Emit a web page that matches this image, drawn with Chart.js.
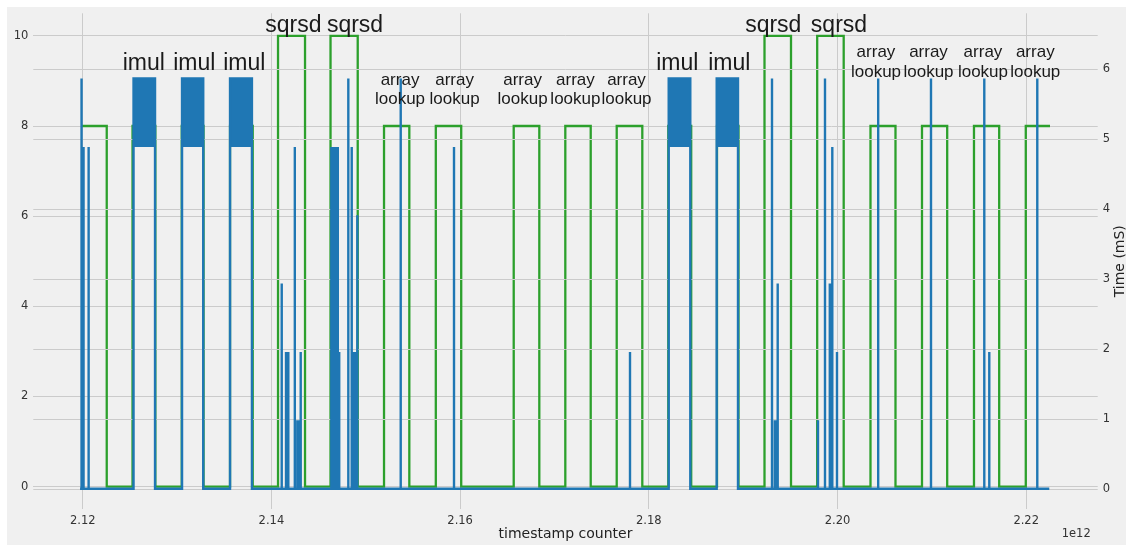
<!DOCTYPE html>
<html>
<head>
<meta charset="utf-8">
<script src="https://cdn.jsdelivr.net/npm/chart.js@4"></script>
<style>
  html, body { margin: 0; padding: 0; background: #ffffff; }
  #wrap { position: absolute; left: 7px; top: 7px; width: 1119px; height: 538px; background: #f0f0f0; }
  canvas { display: block; }
</style>
</head>
<body>
<div id="wrap"><canvas id="c" width="1119" height="538"></canvas></div>
<script>
// Timestamps are in units of 1e12 counter ticks.
const xTicks = [2.12, 2.14, 2.16, 2.18, 2.20, 2.22];
const leftTicks = [0, 2, 4, 6, 8, 10];
const rightTicks = [0, 1, 2, 3, 4, 5, 6];

// Operation marker (left axis): level holds from each timestamp to the next
const opTimes = [
  2.119873, 2.122544, 2.125278, 2.127695, 2.130493, 2.132803, 2.135612, 2.138018,
  2.140699, 2.143561, 2.146264, 2.149147, 2.151934, 2.154616, 2.157424, 2.160116,
  2.165681, 2.168394, 2.171150, 2.173842, 2.176598, 2.179311, 2.182067, 2.184494,
  2.187228, 2.189507, 2.192263, 2.195072, 2.197848, 2.200657, 2.203497, 2.206147,
  2.208956, 2.211627, 2.214467, 2.217138, 2.219957, 2.222522
];
const opLevels = [
  8, 0, 8, 0, 8, 0, 8, 0,
  10, 0, 10, 0, 8, 0, 8, 0,
  8, 0, 8, 0, 8, 0, 8, 0,
  8, 0, 10, 0, 10, 0, 8, 0,
  8, 0, 8, 0, 8, 8
];

// Measured time (right axis, mS)
const traceStart = 2.119714;
const traceEnd = 2.222448;
const spikeTimes = [
  2.119873, 2.120085, 2.120625,
  2.141092, 2.141547, 2.141791, 2.142480, 2.142745, 2.142925, 2.143105,
  2.146349, 2.146486, 2.146624, 2.146761, 2.146900, 2.147037, 2.147186,
  2.148150, 2.148511, 2.148712, 2.148882, 2.149104,
  2.153704, 2.159353, 2.178007,
  2.193058, 2.193355, 2.193482, 2.193662,
  2.197933, 2.198675, 2.199184, 2.199332, 2.199449, 2.199947,
  2.204313, 2.209910, 2.215559, 2.216089, 2.221176
];
const spikeValues = [
  5.868, 4.890, 4.890,
  2.934, 1.956, 1.956, 4.890, 0.978, 0.978, 1.956,
  4.890, 4.890, 4.890, 4.890, 4.890, 4.890, 1.956,
  5.868, 4.890, 1.956, 1.956, 3.912,
  5.868, 4.890, 1.956,
  5.868, 0.978, 0.978, 2.934,
  0.978, 5.868, 2.934, 2.934, 4.890, 1.956,
  5.868, 5.868, 5.868, 1.956, 5.868
];
// imul stretches toggle quickly between two readings
const imulStarts = [2.125384, 2.130525, 2.135612, 2.182109, 2.187196];
const imulEnds   = [2.127663, 2.132772, 2.137933, 2.184398, 2.189454];
const imulHigh = 5.868;
const imulLow = 4.89;

// Operation names, placed in timestamp / left-axis units
const labelTexts = [
  'imul', 'imul', 'imul', 'sqrsd', 'sqrsd',
  'array\nlookup', 'array\nlookup', 'array\nlookup', 'array\nlookup', 'array\nlookup',
  'imul', 'imul', 'sqrsd', 'sqrsd',
  'array\nlookup', 'array\nlookup', 'array\nlookup', 'array\nlookup'
];
const labelTimes = [
  2.126465, 2.131828, 2.137117, 2.142321, 2.148861,
  2.153630, 2.159417, 2.166625, 2.172220, 2.177636,
  2.183021, 2.188532, 2.193195, 2.200158,
  2.204080, 2.209645, 2.215421, 2.220964
];
const labelLevels = [
  9.25, 9.25, 9.25, 10.09, 10.09,
  8.91, 8.91, 8.91, 8.91, 8.91,
  9.25, 9.25, 10.09, 10.09,
  9.53, 9.53, 9.53, 9.53
];

// ---- build library datasets ----
const opPoints = opTimes.map((t, i) => ({ x: t, y: opLevels[i] }));

const timePoints = (() => {
  const groups = [];
  spikeTimes.forEach((t, i) => groups.push([[t, 0], [t, spikeValues[i]], [t, 0]]));
  imulStarts.forEach((s, i) => groups.push([[s, 0], [s, imulHigh], [imulEnds[i], imulHigh], [imulEnds[i], 0]]));
  groups.sort((a, b) => a[0][0] - b[0][0]);
  const pts = [{ x: traceStart, y: 0 }];
  groups.forEach(g => g.forEach(([x, y]) => pts.push({ x, y })));
  pts.push({ x: traceEnd, y: 0 });
  return pts;
})();

const BLUE = '#1f77b4';
const GREEN = '#2ca02c';
const GRID = '#cbcbcb';
const TICK_FONT = { family: 'DejaVu Sans', size: 11.5 };

const bandSets = imulStarts.map((s, i) => ({
  data: [{ x: s, y: imulHigh }, { x: imulEnds[i], y: imulHigh }],
  yAxisID: 'y1',
  borderWidth: 0,
  backgroundColor: BLUE,
  fill: { value: imulLow },
  pointRadius: 0,
  order: 5
}));

// right-axis grid sits above the operation line but below the timing trace
const rightGrid = {
  id: 'rightGrid',
  afterDatasetDraw(chart, args) {
    if (args.index !== 0) return;
    const { ctx, chartArea } = chart;
    const ys = chart.scales.y1;
    ctx.save();
    ctx.strokeStyle = GRID;
    ctx.lineWidth = 1;
    rightTicks.forEach(v => {
      const y = Math.round(ys.getPixelForValue(v)) + 0.5;
      ctx.beginPath();
      ctx.moveTo(chartArea.left, y);
      ctx.lineTo(chartArea.right, y);
      ctx.stroke();
    });
    ctx.restore();
  }
};

const textLayer = {
  id: 'textLayer',
  afterDraw(chart) {
    const { ctx, chartArea } = chart;
    const xs = chart.scales.x, ys = chart.scales.y;
    ctx.save();
    // operation names
    ctx.fillStyle = '#1a1a1a';
    ctx.textAlign = 'center';
    ctx.textBaseline = 'alphabetic';
    labelTexts.forEach((txt, i) => {
      const lines = txt.split('\n');
      const size = lines.length > 1 ? 17 : 23;
      ctx.font = size + 'px "Liberation Sans", Arial, sans-serif';
      const x = xs.getPixelForValue(labelTimes[i]);
      const y = ys.getPixelForValue(labelLevels[i]);
      lines.forEach((ln, k) => ctx.fillText(ln, x, y + k * 19.5));
    });
    // axis titles
    ctx.fillStyle = '#222222';
    ctx.font = '14px "DejaVu Sans", sans-serif';
    ctx.textBaseline = 'middle';
    ctx.textAlign = 'center';
    ctx.fillText('timestamp counter', (chartArea.left + chartArea.right) / 2, 527);
    ctx.save();
    ctx.translate(1113, (chartArea.top + chartArea.bottom) / 2);
    ctx.rotate(-Math.PI / 2);
    ctx.fillText('Time (mS)', 0, 0);
    ctx.restore();
    ctx.font = '11.5px "DejaVu Sans", sans-serif';
    ctx.fillStyle = '#333333';
    ctx.textAlign = 'right';
    ctx.fillText('1e12', chartArea.right - 7, 527);
    ctx.restore();
  }
};

new Chart(document.getElementById('c'), {
  type: 'line',
  data: {
    datasets: [
      {
        data: opPoints,
        yAxisID: 'y',
        borderColor: GREEN,
        borderWidth: 2.3,
        stepped: true,
        pointRadius: 0,
        borderJoinStyle: 'miter',
        borderCapStyle: 'butt',
        fill: false,
        order: 10
      },
      ...bandSets,
      {
        data: timePoints,
        yAxisID: 'y1',
        borderColor: BLUE,
        borderWidth: 2.4,
        pointRadius: 0,
        tension: 0,
        borderJoinStyle: 'miter',
        borderCapStyle: 'butt',
        fill: false,
        order: 1
      }
    ]
  },
  options: {
    responsive: false,
    animation: false,
    devicePixelRatio: 1,
    layout: { padding: { top: 6.3, left: 0, right: 0, bottom: 0 } },
    plugins: { legend: { display: false }, tooltip: { enabled: false } },
    scales: {
      x: {
        type: 'linear',
        min: 2.11476,
        max: 2.22758,
        border: { display: false },
        grid: { color: GRID, lineWidth: 1, drawTicks: false },
        ticks: {
          font: TICK_FONT, color: '#333333', padding: 5,
          maxRotation: 0, autoSkip: false,
          callback: v => Number(v).toFixed(2)
        },
        afterBuildTicks: s => { s.ticks = xTicks.map(v => ({ value: v })); },
        afterFit: s => { s.height = 35.8; s.paddingLeft = 0; s.paddingRight = 0; }
      },
      y: {
        position: 'left',
        min: -0.5,
        max: 10.5,
        border: { display: false },
        grid: { color: GRID, lineWidth: 1, drawTicks: false },
        ticks: { font: TICK_FONT, color: '#333333', padding: 5 },
        afterBuildTicks: s => { s.ticks = leftTicks.map(v => ({ value: v })); },
        afterFit: s => { s.width = 26.3; s.paddingTop = 0; s.paddingBottom = 0; }
      },
      y1: {
        position: 'right',
        min: -0.293,
        max: 6.801,
        border: { display: false },
        grid: { display: false, drawTicks: false },
        ticks: { font: TICK_FONT, color: '#333333', padding: 5 },
        afterBuildTicks: s => { s.ticks = rightTicks.map(v => ({ value: v })); },
        afterFit: s => { s.width = 28.3; s.paddingTop = 0; s.paddingBottom = 0; }
      }
    }
  },
  plugins: [rightGrid, textLayer]
});
</script>
</body>
</html>
